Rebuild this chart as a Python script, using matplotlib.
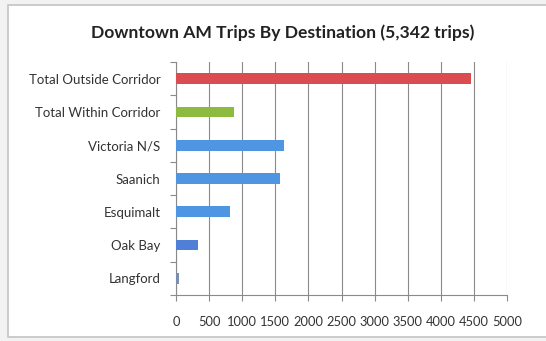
import matplotlib
matplotlib.use("Agg")
import matplotlib.pyplot as plt
from matplotlib.patches import Rectangle
from matplotlib.ticker import FixedLocator

# Trips by destination, top to bottom as listed
destinations = ["Total Outside Corridor", "Total Within Corridor", "Victoria N/S",
                "Saanich", "Esquimalt", "Oak Bay", "Langford"]
trips = [4460, 882, 1630, 1570, 815, 330, 45]
bar_colors = ["#db4c50", "#8dbb3f", "#4f96e2", "#4f96e2", "#4f96e2", "#4f7fd6", "#7a8fb0"]
x_ticks = list(range(0, 5001, 500))

plt.rcParams['font.family'] = ['Lato', 'DejaVu Sans']

fig = plt.figure(figsize=(5.46, 3.41), dpi=100)
fig.patch.set_facecolor("#f2f2f2")

# chart frame
frame = Rectangle((8 / 546, 0.012), 1.0, 1 - 5 / 341 - 0.012, transform=fig.transFigure,
                  facecolor="white", edgecolor="#c4c4c4", linewidth=1.2, zorder=-10)
fig.patches.append(frame)

ax = fig.add_axes([176 / 546, 1 - 295 / 341, (507 - 176) / 546, (295 - 62) / 341])
ax.set_facecolor("none")
ax.set_zorder(5)

n = len(destinations)
ypos = list(range(n - 1, -1, -1))
ax.barh(ypos, trips, height=0.32, color=bar_colors, zorder=3)

ax.set_xlim(0, 5000)
ax.set_ylim(-0.5, n - 0.5)
ax.set_xticks(x_ticks)
ax.set_xticklabels([str(v) for v in x_ticks], fontsize=9.3, color="#333333")
ax.set_yticks(ypos)
ax.set_yticklabels(destinations, fontsize=9.5, color="#333333")

ax.yaxis.set_minor_locator(FixedLocator([i - 0.5 for i in range(n + 1)]))
ax.tick_params(axis="y", which="major", length=0, pad=11)
ax.tick_params(axis="y", which="minor", length=4, direction="out", color="#8a8a8a", width=0.8)
ax.tick_params(axis="x", which="major", length=4, direction="out", color="#8a8a8a",
               width=0.8, pad=11)

ax.grid(axis="x", color="#8a8a8a", linewidth=0.8, zorder=1)
for side in ["top", "right"]:
    ax.spines[side].set_visible(False)
for side in ["left", "bottom"]:
    ax.spines[side].set_color("#8a8a8a")
    ax.spines[side].set_linewidth(0.8)

fig.text(283 / 546, 1 - 33 / 341, "Downtown AM Trips By Destination (5,342 trips)",
         ha="center", va="center", fontsize=12.6, fontweight="bold", color="#222222")

fig.savefig("out.png", dpi=100, facecolor=fig.get_facecolor())
